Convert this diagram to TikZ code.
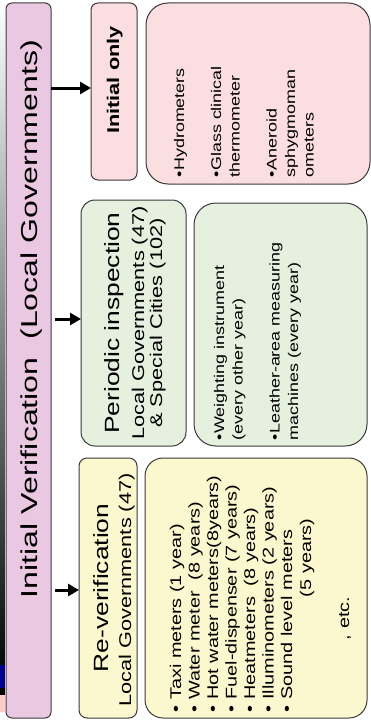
\documentclass[tikz,border=0pt]{standalone}
\usepackage{fontspec}
\setmainfont{Liberation Sans}
\usetikzlibrary{arrows.meta,calc}

\definecolor{vioFill}{HTML}{EAC8E1}
\definecolor{pinkFill}{HTML}{FBDEDF}
\definecolor{greenFill}{HTML}{E6F0DF}
\definecolor{yellowFill}{HTML}{FBF7CE}
\definecolor{edgeGray}{HTML}{3A3A3A}

\tikzset{
  panel/.style 2 args={draw=edgeGray, line width=1pt, inner sep=0pt, outer sep=0pt,
    minimum width=#1pt, minimum height=#2pt},
  % text reads bottom to top and is set slightly stretched along its line
  txt/.style={inner sep=0pt, outer sep=0pt, rotate=90, xscale=1.28},
  head/.style={txt, anchor=base},
  item/.style={txt, anchor=base west, font=\fontsize{14}{14}\selectfont},
  bigitem/.style={txt, anchor=base west, font=\fontsize{15.5}{15.5}\selectfont},
  arr/.style={line width=3pt, -{Triangle[length=11pt,width=12pt]}},
}

\begin{document}
\begin{tikzpicture}[x=1pt, y=-1pt]
\useasboundingbox (0,0) rectangle (371,725);

% slide edge strip on the left
\shade[top color=white, bottom color=black] (0,0) rectangle (4.5,690);
\fill[blue!55!black] (0,665) rectangle (4.5,690);
\fill[black] (0,688) rectangle (4.5,695);
\fill[red!20] (0,695) rectangle (4.5,712);

% panels
\node[panel={45}{715}, fill=vioFill, rounded corners=6pt] (iv) at (28.5,360.5) {};
\node[panel={46}{177}, fill=pinkFill, rounded corners=7pt] (ini) at (114,91.5) {};
\node[panel={224}{181}, fill=pinkFill, rounded corners=22pt] (inic) at (258,93.5) {};
\node[panel={105}{246}, fill=greenFill, rounded corners=14pt] (perh) at (133.5,323) {};
\node[panel={173}{243}, fill=greenFill, rounded corners=22pt] (perc) at (280.5,324.5) {};
\node[panel={58}{260}, fill=yellowFill, rounded corners=8pt] (reh) at (108,588) {};
\node[panel={222}{260}, fill=yellowFill, rounded corners=18pt] (rec) at (256,588) {};

% connectors
\draw[arr] ($(iv.east |- ini.west)+(0,-3.5)$) -- ($(ini.west)+(0,-3.5)$);
\draw[arr, shorten <=4pt] ($(iv.east |- perh.west)+(0,-4)$) -- ($(perh.west)+(0,-4)$);
\draw[arr, shorten <=4pt] ($(iv.east |- reh.west)+(0,2)$) -- ($(reh.west)+(0,2)$);

% headings
\node[head, xscale=1.09, font=\fontsize{23}{28}\selectfont] (ivT) at (37,319)
  {Initial Verification\ \ (Local Governments)};
\node[head, font=\bfseries\fontsize{17}{20}\selectfont] (iniT) at (119,80) {Initial only};
\node[head, font=\fontsize{20.6}{24}\selectfont] (perT1) at (119,323) {Periodic inspection};
\node[head, font=\fontsize{17}{20}\selectfont] (perT2) at (144,323) {Local Governments (47)};
\node[head, font=\fontsize{17}{20}\selectfont] (perT3) at (162,323) {\& Special Cities (102)};
\node[head, font=\fontsize{20.6}{24}\selectfont] (reT1) at (108,588) {Re-verification};
\node[head, font=\fontsize{17}{20}\selectfont] (reT2) at (131,590) {Local Governments (47)};

% initial-only instruments
\node[item] (h1) at (184,177) {•Hydrometers};
\node[item] (h2) at (221,177) {•Glass clinical};
\node[item] (h3) at (239.5,177) {thermometer};
\node[item] (h4) at (276.5,177) {•Aneroid};
\node[item] (h5) at (295,177) {sphygmoman};
\node[item] (h6) at (313.5,177) {ometers};

% periodic inspection instruments
\node[item] (p1) at (224,440) {•Weighting instrument};
\node[item] (p2) at (242.5,440) {(every other year)};
\node[item] (p3) at (279.5,440) {•Leather-area measuring};
\node[item] (p4) at (298,440) {machines (every year)};

% re-verification instruments
\foreach \t [count=\i] in {{Taxi meters (1 year)}, {Water meter\ \ (8 years)},
    {Hot water meters(8years)}, {Fuel-dispenser (7 years)}, {Heatmeters\ \ (8 years)},
    {Illuminometers (2 years)}, {Sound level meters}}
  \node[bigitem] (r\i) at ({181+18.5*(\i-1)},712) {• \t};
\node[bigitem] (r8) at (311,597) {(5 years)};
\node[bigitem] (r9) at (349,640) {, etc.};
\end{tikzpicture}
\end{document}
